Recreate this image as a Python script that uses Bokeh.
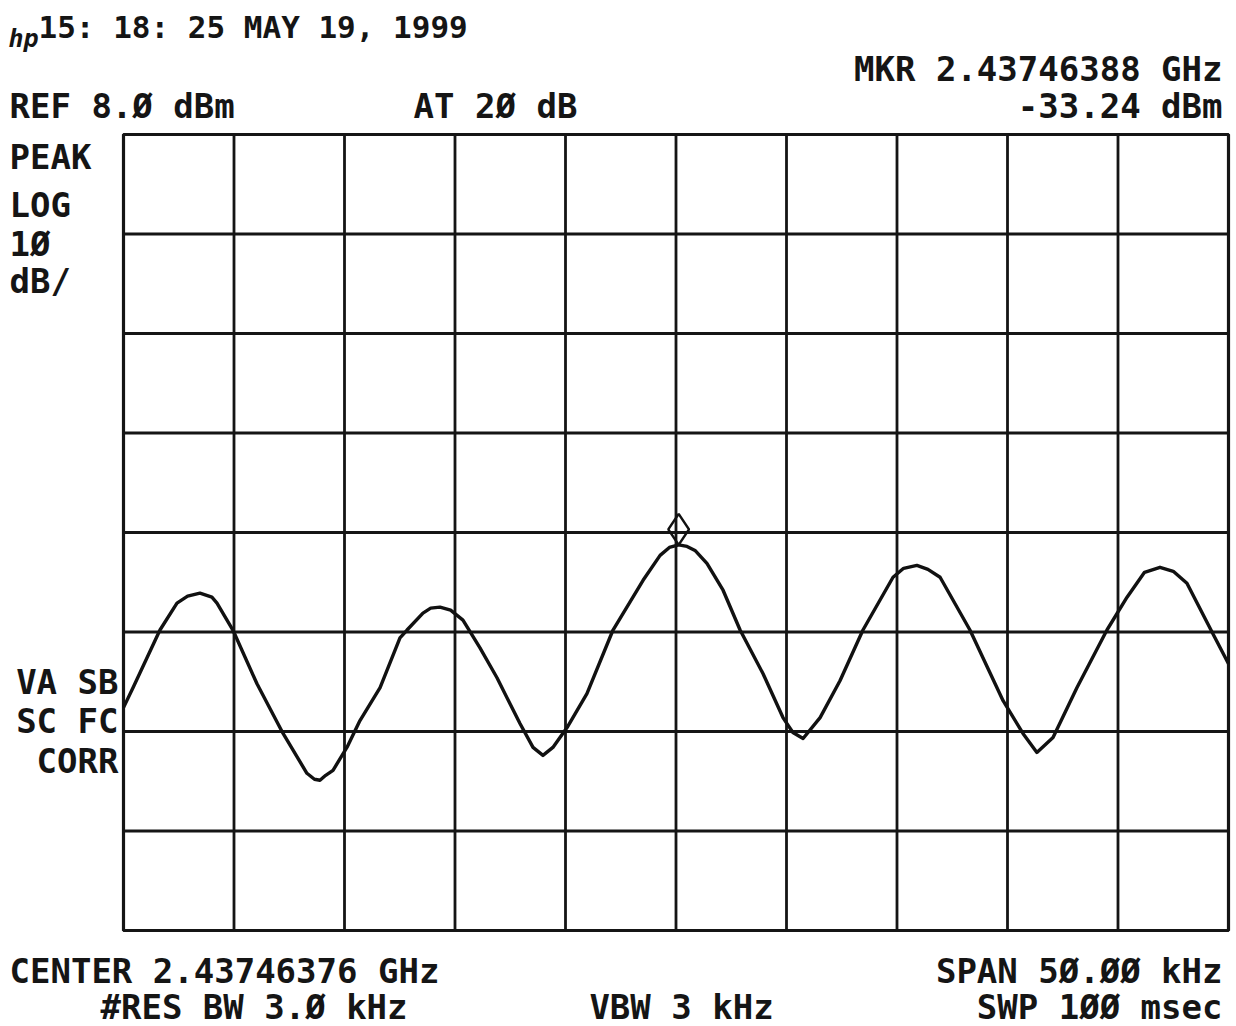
from bokeh.plotting import figure
from bokeh.models import Label, Range1d
from bokeh.embed import file_html
from bokeh.resources import INLINE

# Swept trace: frequency offset from centre (kHz) and level (dBm)
freq_khz = [-25.0, -24.57, -23.35, -22.58, -22.1, -21.54, -21.0, -20.77, -20.05,
            -18.96, -17.78, -16.70, -16.36, -16.11, -15.85, -15.52, -14.89, -14.30,
            -13.39, -12.49, -12.17, -11.45, -11.1, -10.68, -10.2, -9.64, -8.87,
            -8.10, -7.06, -6.47, -6.02, -5.57, -4.93, -4.03, -2.85, -1.49, -0.72,
            -0.3, 0.12, 0.5, 0.86, 1.40, 2.13, 2.90, 3.94, 4.84, 5.29, 5.75, 6.52,
            7.42, 8.46, 9.82, 10.3, 10.90, 11.4, 11.95, 13.30, 14.80, 15.70, 16.33,
            17.06, 18.14, 19.50, 20.41, 21.2, 21.90, 22.5, 23.12, 24.30, 25.0]
level_dbm = [-49.6, -47.6, -41.8, -39.1, -38.4, -38.1, -38.5, -39.1, -41.8,
             -47.2, -52.2, -56.2, -56.8, -56.9, -56.4, -55.9, -53.6, -50.9,
             -47.6, -42.6, -41.8, -40.1, -39.6, -39.5, -39.8, -40.8, -43.6,
             -46.6, -51.2, -53.6, -54.4, -53.6, -51.6, -48.2, -41.8, -36.8, -34.3,
             -33.5, -33.24, -33.4, -33.8, -35.1, -37.8, -41.8, -46.2, -50.6, -52.1,
             -52.7, -50.6, -46.9, -41.8, -36.5, -35.6, -35.3, -35.7, -36.5, -41.8,
             -48.9, -52.2, -54.1, -52.6, -47.6, -41.8, -38.5, -36.0, -35.5, -35.9,
             -37.1, -42.2, -45.2]

# Marker readout
marker_khz = 0.12
marker_dbm = -33.24

# Display scale
ref_level = 8.0
db_per_div = 10
n_vdiv = 8
span_khz = 50.0
n_hdiv = 10

# Page and graticule placement (pixels)
W, H = 1236, 1026
g_left, g_right, g_top, g_bottom = 123, 1228, 134, 930
px_per_khz = (g_right - g_left) / span_khz
px_per_db = (g_bottom - g_top) / (db_per_div * n_vdiv)


def to_x(px):
    return -span_khz / 2 + (px - g_left) / px_per_khz


def to_y(py):
    return ref_level - (py - g_top) / px_per_db


y_lo = ref_level - db_per_div * n_vdiv
x_lo, x_hi = -span_khz / 2, span_khz / 2

# The plot frame covers the whole page so the annotation text is never clipped
p = figure(width=W, height=H,
           x_range=Range1d(to_x(0), to_x(W)), y_range=Range1d(to_y(H), to_y(0)),
           x_axis_type=None, y_axis_type=None,
           output_backend="svg", toolbar_location=None,
           min_border=0)
p.background_fill_color = "white"
p.border_fill_color = "white"
p.outline_line_color = None
p.grid.visible = False

ink = "#151515"

# Graticule: 10 x 8 divisions
xticks = [x_lo + i * span_khz / n_hdiv for i in range(n_hdiv + 1)]
yticks = [y_lo + i * db_per_div for i in range(n_vdiv + 1)]
p.segment(x0=xticks, y0=[y_lo] * len(xticks), x1=xticks, y1=[ref_level] * len(xticks),
          line_color=ink, line_width=2.8)
p.segment(x0=[x_lo] * len(yticks), y0=yticks, x1=[x_hi] * len(yticks), y1=yticks,
          line_color=ink, line_width=2.8)
p.rect(x=[0], y=[(y_lo + ref_level) / 2], width=span_khz, height=ref_level - y_lo,
       fill_color=None, line_color=ink, line_width=3.2)

p.line(freq_khz, level_dbm, line_color="#111111", line_width=3.4,
       line_join="round")

# Marker diamond sitting on top of the marked point
dsize = 31
p.scatter([marker_khz], [marker_dbm + (dsize / 2) / px_per_db], marker="diamond",
          size=dsize, fill_color=None, line_color="#111111", line_width=2.5)

FONT = "DejaVu Sans Mono"
FS = "34px"
BASE_SHIFT = 12  # the SVG text sits this many pixels low relative to its anchor


def txt(s, px, py, align="left", size=FS, style="bold"):
    # px, py: page position of the text's baseline anchor
    p.add_layout(Label(x=to_x(px), y=to_y(py - BASE_SHIFT), text=s,
                       text_font=FONT, text_font_size=size,
                       text_font_style=style, text_color=ink,
                       text_align=align, text_baseline="alphabetic"))


txt("15: 18: 25 MAY 19,  1999", 38, 38, size="31px")
txt("hp", 8, 50, size="25px", style="bold italic")
txt("MKR 2.43746388 GHz", 1222, 80, align="right")
txt("REF 8.Ø dBm", 9, 117)
txt("AT 2Ø dB", 495, 117, align="center")
txt("-33.24 dBm", 1222, 117, align="right")
txt("PEAK", 9, 168)
txt("LOG", 9, 216)
txt("1Ø", 9, 255)
txt("dB/", 9, 292)
txt("VA SB", 118, 693, align="right")
txt("SC FC", 118, 732, align="right")
txt("CORR", 118, 772, align="right")
txt("CENTER 2.43746376 GHz", 9, 982)
txt("SPAN 5Ø.ØØ kHz", 1222, 982, align="right")
txt("#RES BW 3.Ø kHz", 100, 1018)
txt("VBW 3 kHz", 681, 1018, align="center")
txt("SWP 1ØØ msec", 1222, 1018, align="right")

open("out.html", "w").write(file_html(p, INLINE))
